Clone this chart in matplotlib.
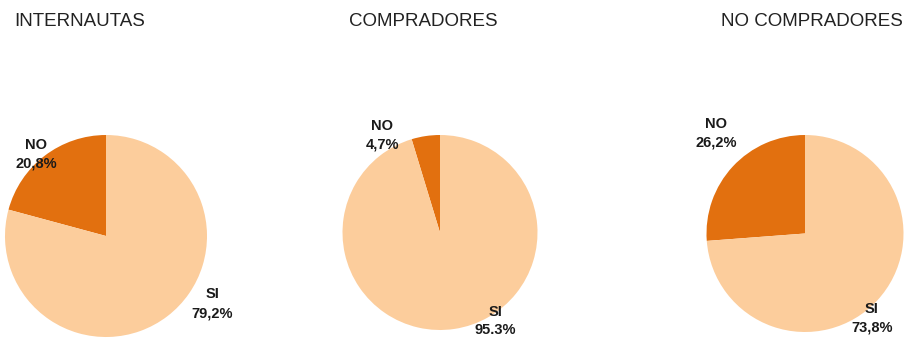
import matplotlib.pyplot as plt

titles = ["INTERNAUTAS", "COMPRADORES", "NO COMPRADORES"]
categories = ["NO", "SI"]
no_pct = [20.8, 4.7, 26.2]
si_pct = [79.2, 95.3, 73.8]
# decimal separator printed for (NO, SI) in each chart
dec_sep = [(",", ","), (",", "."), (",", ",")]

colors = ["#E2700F", "#FCCD9C"]

W, H = 910, 351
# pie centre (px from left, px from top) and radius in px
centres = [(106, 236, 101), (440, 232.5, 97.5), (805, 233.5, 98.5)]
# label block offsets in radius units: (NO x, NO y, SI x, SI y)
label_pos = [(-0.69, 0.81, 1.05, -0.67),
             (-0.59, 1.00, 0.57, -0.91),
             (-0.90, 1.02, 0.68, -0.86)]
title_x = [80, 423, 812]

fig = plt.figure(figsize=(W / 100, H / 100), dpi=100)
plt.rcParams['font.family'] = ['Liberation Sans', 'DejaVu Sans']

for i in range(3):
    cx, cy, r = centres[i]
    ax = fig.add_axes([(cx - r) / W, (H - cy - r) / H, 2 * r / W, 2 * r / H])
    ax.pie([no_pct[i], si_pct[i]], colors=colors, startangle=90,
           counterclock=True, radius=1, wedgeprops=dict(linewidth=0))
    ax.set_xlim(-1, 1)
    ax.set_ylim(-1, 1)
    ax.set_aspect('auto')
    ax.axis('off')

    vals = [no_pct[i], si_pct[i]]
    lp = label_pos[i]
    for k in range(2):
        pct = f"{vals[k]:.1f}".replace(".", dec_sep[i][k]) + "%"
        x, y = lp[2 * k], lp[2 * k + 1]
        ax.text(x, y + 0.095, categories[k], ha='center', va='center',
                fontsize=10.5, fontweight='bold', color='#1a1a1a', clip_on=False)
        ax.text(x, y - 0.095, pct, ha='center', va='center',
                fontsize=10.5, fontweight='bold', color='#1a1a1a', clip_on=False)

    fig.text(title_x[i] / W, 1 - 22 / H, titles[i], ha='center', va='center',
             fontsize=13.5, color='#222222')

fig.savefig("out.png", dpi=100)
